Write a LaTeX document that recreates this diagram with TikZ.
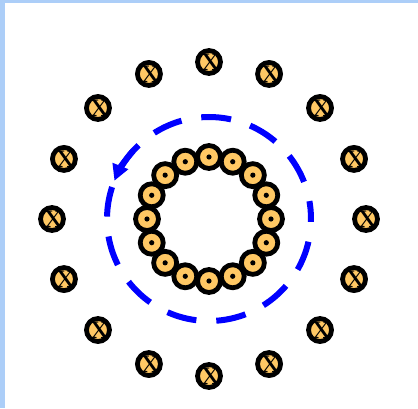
\documentclass[tikz,border=0pt]{standalone}
\usetikzlibrary{arrows.meta}
\definecolor{wirefill}{RGB}{255,200,100}
\definecolor{framebar}{RGB}{172,206,248}
\tikzset{
  wire/.style={circle, draw=black, line width=4.8pt, fill=wirefill, minimum size=23pt, inner sep=0pt},
  crossmark/.style={inner sep=0pt, font=\fontsize{24}{24}\selectfont\bfseries},
  loopline/.style={draw=blue, line width=6pt, dash pattern=on 30pt off 20pt}
}
\begin{document}
\begin{tikzpicture}[x=1pt,y=1pt]
\useasboundingbox (0,0) rectangle (418,408);
\fill[framebar] (0,0) rectangle (5,408);
\fill[framebar] (0,405) rectangle (418,408);
\coordinate (C) at (209,189);

% Amperian loop
\draw[loopline, dash phase=12pt] (C) circle (102);
\draw[blue, line width=6pt, -{Triangle[length=16pt,width=16pt]}] ([shift={(C)}]138:102) arc (138:158:102);

% inner wires, current out of page
\foreach \i in {0,...,15}{
  \node[wire] (in\i) at ([shift={(C)}]90-\i*22.5:62) {};
  \fill (in\i) circle (2.6);
}

% outer wires, current into page
\foreach \i in {0,...,15}{
  \node[wire] (out\i) at ([shift={(C)}]90-\i*22.5:157) {};
  \node[crossmark] (x\i) at ([xshift=1.5pt]out\i) {X};
}
\end{tikzpicture}
\end{document}
